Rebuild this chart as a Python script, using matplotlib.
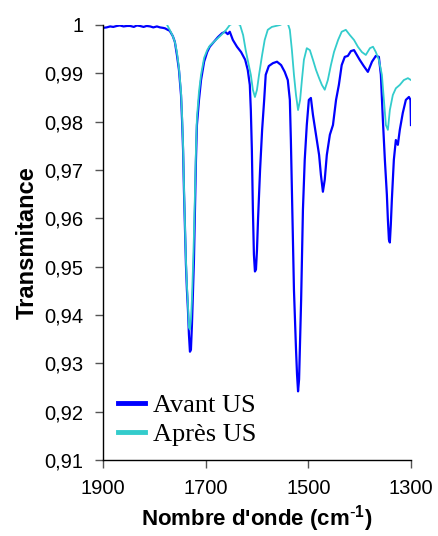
import matplotlib.pyplot as plt
import numpy as np
from matplotlib.ticker import FuncFormatter

# FTIR spectrum, before / after ultrasound treatment
wn_avant = [1900, 1893, 1886, 1880, 1873, 1867, 1860, 1853, 1847, 1840, 1834, 1828,
            1821, 1815, 1808, 1802, 1795, 1789, 1783, 1779, 1774, 1770, 1764, 1760,
            1756, 1752, 1748, 1746, 1744, 1742.3, 1740.3, 1738.4, 1736.5, 1734.5,
            1732.6, 1730.6, 1728.7, 1726.7, 1724.8, 1722.8, 1720.9, 1718.9, 1717,
            1713, 1709, 1703, 1697, 1692, 1684, 1676, 1668, 1662, 1657, 1653, 1647,
            1639, 1631, 1623, 1618, 1614, 1612, 1610, 1608, 1606, 1604, 1602, 1600,
            1598, 1594, 1590, 1586, 1583, 1577, 1569, 1561, 1553, 1546, 1540, 1536,
            1534, 1532, 1530, 1528, 1526, 1524, 1522, 1520, 1518, 1516, 1514, 1512.5,
            1510.5, 1507, 1503, 1499, 1495, 1491, 1485, 1479, 1475.5, 1471.6, 1468,
            1464, 1458, 1452, 1446, 1440.5, 1435, 1429, 1423, 1417, 1411, 1405.5,
            1400, 1392, 1384, 1376, 1368.5, 1362.6, 1358.7, 1354.8, 1350.9, 1347,
            1345, 1343, 1341.2, 1339.3, 1337.3, 1333.4, 1329.5, 1325.6, 1321.8,
            1316, 1310, 1304, 1301, 1300]
t_avant = [0.9994, 0.9995, 0.9997, 0.9996, 0.9998, 0.9999, 0.9997, 0.9998, 0.9998,
           0.9996, 0.9999, 0.9998, 0.9996, 0.9998, 0.9997, 0.9995, 0.9997, 0.9995,
           0.9994, 0.9993, 0.9990, 0.9988, 0.9977, 0.9965, 0.9938, 0.9907, 0.9855,
           0.9804, 0.9742, 0.9659, 0.9576, 0.9504, 0.9452, 0.9411, 0.9360, 0.9324,
           0.9328, 0.9380, 0.9442, 0.9514, 0.9618, 0.9721, 0.9793, 0.9845, 0.9886,
           0.9924, 0.9944, 0.9955, 0.9965, 0.9975, 0.9983, 0.9986, 0.9981, 0.9986,
           0.9969, 0.9955, 0.9944, 0.9928, 0.9907, 0.9876, 0.9824, 0.9742, 0.9618,
           0.9525, 0.9490, 0.9494, 0.9535, 0.9597, 0.9700, 0.9783, 0.9845, 0.9897,
           0.9915, 0.9921, 0.9924, 0.9917, 0.9903, 0.9886, 0.9845, 0.9762, 0.9659,
           0.9556, 0.9452, 0.9390, 0.9329, 0.9277, 0.9242, 0.9267, 0.9349, 0.9432,
           0.9514, 0.9618, 0.9721, 0.9793, 0.9845, 0.9849, 0.9814, 0.9773, 0.9731,
           0.9690, 0.9655, 0.9680, 0.9731, 0.9773, 0.9793, 0.9845, 0.9876, 0.9917,
           0.9934, 0.9936, 0.9946, 0.9948, 0.9938, 0.9928, 0.9915, 0.9903, 0.9924,
           0.9936, 0.9934, 0.9897, 0.9804, 0.9721, 0.9649, 0.9597, 0.9556, 0.9550,
           0.9587, 0.9638, 0.9721, 0.9762, 0.9752, 0.9783, 0.9818, 0.9845, 0.9851,
           0.9845, 0.9793]

wn_apres = [1775, 1770, 1764, 1760, 1756, 1752, 1748, 1746, 1744, 1742.3, 1740.3,
            1738.4, 1736.5, 1734.5, 1732.6, 1730.6, 1728.7, 1726.7, 1724.8, 1722.8,
            1720.9, 1718.9, 1717, 1713, 1709, 1703, 1697, 1692, 1684, 1676, 1668,
            1660, 1653, 1643, 1633, 1627, 1622, 1616, 1612, 1608, 1604, 1600, 1596,
            1590, 1585, 1579, 1571, 1563, 1555, 1546, 1540, 1536, 1532, 1528, 1524,
            1520, 1516, 1512.5, 1508.6, 1503, 1497, 1491, 1485, 1479, 1473.6, 1468,
            1462, 1456, 1450, 1442, 1435, 1427, 1419, 1411, 1403.5, 1395.7, 1388,
            1380, 1374, 1368.5, 1362.6, 1356.7, 1352.8, 1348.9, 1345, 1341.2, 1335.4,
            1329.5, 1321.8, 1314, 1306, 1300]
t_apres = [1.0000, 0.9990, 0.9977, 0.9965, 0.9944, 0.9911, 0.9862, 0.9814, 0.9752,
           0.9669, 0.9587, 0.9514, 0.9463, 0.9421, 0.9374, 0.9370, 0.9390, 0.9432,
           0.9494, 0.9566, 0.9649, 0.9742, 0.9808, 0.9862, 0.9897, 0.9932, 0.9948,
           0.9957, 0.9965, 0.9973, 0.9981, 0.9990, 1.0000, 1.0005, 1.0000, 0.9979,
           0.9948, 0.9917, 0.9897, 0.9866, 0.9851, 0.9866, 0.9897, 0.9938, 0.9969,
           0.9990, 0.9996, 0.9998, 1.0000, 1.0005, 1.0003, 0.9990, 0.9948, 0.9897,
           0.9855, 0.9824, 0.9845, 0.9886, 0.9928, 0.9952, 0.9948, 0.9928, 0.9907,
           0.9890, 0.9876, 0.9866, 0.9886, 0.9917, 0.9944, 0.9969, 0.9986, 0.9990,
           0.9979, 0.9969, 0.9955, 0.9944, 0.9938, 0.9952, 0.9955, 0.9944, 0.9928,
           0.9897, 0.9845, 0.9793, 0.9783, 0.9824, 0.9855, 0.9869, 0.9876, 0.9886,
           0.9890, 0.9886]

x_ticks = [1900, 1700, 1500, 1300]

fig = plt.figure(figsize=(4.39, 5.36), dpi=100)
ax = fig.add_axes([0.2346, 0.1418, 0.7016, 0.8116])

ax.plot(wn_avant, t_avant, color='#0000ff', lw=1.6, label='Avant US')
ax.plot(wn_apres, t_apres, color='#33cccc', lw=1.3, label='Après US')

ax.set_xlim(1900, 1300)
ax.set_ylim(0.91, 1.0)
ax.set_xticks(x_ticks)
ax.set_yticks(np.arange(0.91, 1.0001, 0.01))

def comma_fmt(v, pos):
    if abs(v - 1) < 1e-6:
        return '1'
    return f'{v:.2f}'.replace('.', ',')

ax.yaxis.set_major_formatter(FuncFormatter(comma_fmt))

for side in ['top', 'right']:
    ax.spines[side].set_visible(False)
for side in ['left', 'bottom']:
    ax.spines[side].set_color('black')
    ax.spines[side].set_linewidth(1.0)

ax.tick_params(axis='both', direction='out', length=6, width=1, color='#555555',
               labelsize=14.5, pad=8)
for lbl in ax.get_xticklabels() + ax.get_yticklabels():
    lbl.set_fontfamily('Liberation Sans')

ax.set_xlabel("Nombre d'onde (cm$^{\\mathregular{\\text{-}1}}$)", fontsize=16,
              fontweight='bold', fontfamily='Liberation Sans', labelpad=3)
ax.set_ylabel('Transmitance', fontsize=17, fontweight='bold',
              fontfamily='Liberation Sans', labelpad=4)

leg = ax.legend(loc='upper left', bbox_to_anchor=(0.05, 0.152), frameon=False,
                prop={'family': 'Liberation Serif', 'size': 19},
                handlelength=1.0, handletextpad=0.3, labelspacing=0.2,
                borderpad=0, borderaxespad=0)
for line in leg.get_lines():
    line.set_linewidth(3.5)

fig.savefig('out.png', dpi=100)
